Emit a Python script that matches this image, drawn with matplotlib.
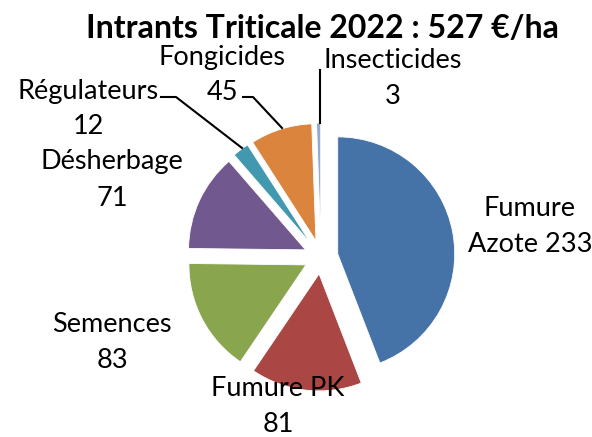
import matplotlib
matplotlib.use("Agg")
import matplotlib.pyplot as plt

categories = ["Fumure\nAzote", "Fumure PK", "Semences", "Désherbage",
              "Régulateurs", "Fongicides", "Insecticides"]
values = [233, 81, 83, 71, 12, 45, 3]
colors = ["#4572A7", "#AA4643", "#89A54E", "#71588F", "#4198AF", "#DB843D", "#93A9CF"]
title = "Intrants Triticale 2022 : 527 €/ha"

W, H = 592, 437
fig = plt.figure(figsize=(W / 100, H / 100), dpi=100)
ax = fig.add_axes([0, 0, 1, 1])

ax.pie(values, colors=colors, startangle=90, counterclock=False,
       center=(321, H - 257), radius=117, explode=[17] * len(values),
       wedgeprops=dict(linewidth=0.6, edgecolor="white"), frame=True)
ax.set_xlim(0, W)
ax.set_ylim(0, H)
ax.set_aspect("equal")
ax.axis("off")

font = "Lato"
fs = 19.5
ls = 1.55

def lab(x, y, s, ha="center"):
    ax.text(x, H - y, s, ha=ha, va="center", fontsize=fs, family=font,
            linespacing=ls, color="black")

lab(530, 227, "Fumure\nAzote 233")
lab(278, 406, "Fumure PK\n81")
lab(112, 343, "Semences\n83")
lab(112, 180, "Désherbage\n71")
lab(88, 109, "Régulateurs\n12")
lab(222, 75, "Fongicides\n45")
lab(393, 79, "Insecticides\n3")

ax.text(322, H - 28, title, ha="center", va="center", fontsize=23,
        family=font, fontweight="bold", color="black")

# leader lines
def leader(pts):
    ax.plot([p[0] for p in pts], [H - p[1] for p in pts], color="black", lw=1.5)

leader([(161, 97), (176, 97), (242, 148)])
leader([(243, 97), (253, 97), (282, 128)])
leader([(320, 70), (320, 123)])

fig.savefig("out.png", dpi=100)
